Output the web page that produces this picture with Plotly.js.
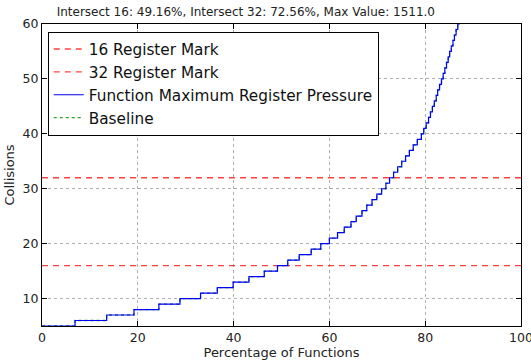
<!DOCTYPE html>
<html>
<head>
<meta charset="utf-8">
<script src="https://cdn.plot.ly/plotly-3.0.1.min.js"></script>
<style>html,body{margin:0;padding:0;background:#fff;}#chart{width:531px;height:363px;}</style>
</head>
<body>
<div id="chart"></div>
<script>
// Collision level (y) and the percentage of functions (x) where that level begins
const collisionLevels = [5,6,7,8,9,10,11,12,13,14,15,16,17,18,19,20,21,22,23,24,25,26,27,28,29,30,31,32,33,34,35,36,37,38,39,40,41,42,43,44,45,46,47,48,49,50,51,52,53,54,55,56,57,58,59,60,61,1511];
const levelStartPct = [0,6.9,13.5,19.2,24.4,28.8,33.1,36.6,39.9,43.2,46.4,49.16,51.3,53.7,56.2,58.2,60.0,61.7,63.1,64.5,65.6,66.8,67.8,68.9,69.9,70.9,71.8,72.56,73.4,74.25,75.1,75.9,76.7,77.5,78.35,79.2,79.7,80.2,80.7,81.1,81.5,81.9,82.3,82.6,83.0,83.4,83.75,84.1,84.45,84.8,85.1,85.45,85.8,86.1,86.45,86.8,87.1,100];
const markRange = [0, 100];
const mark16 = [16, 16];
const mark32 = [32, 32];
const xTicks = [0,20,40,60,80,100];
const yTicks = [10,20,30,40,50,60];
const titleText = "Intersect 16: 49.16%, Intersect 32: 72.56%, Max Value: 1511.0";

const F = "DejaVu Sans, sans-serif";
const traces = [
  {x: levelStartPct, y: collisionLevels, mode: "lines", name: "Baseline", line: {shape: "hv", color: "#2ca02c", width: 1.3, dash: "dot"}, legendrank: 4},
  {x: markRange, y: mark16, mode: "lines", name: "16 Register Mark", line: {color: "rgba(255,0,0,0.75)", width: 1.3, dash: "6px,5px"}, legendrank: 1},
  {x: markRange, y: mark32, mode: "lines", name: "32 Register Mark", line: {color: "rgba(255,0,0,0.75)", width: 1.3, dash: "6px,5px"}, legendrank: 2},
  {x: levelStartPct, y: collisionLevels, mode: "lines", name: "Function Maximum Register Pressure", line: {shape: "hv", color: "#0000ff", width: 1.2}, legendrank: 3}
];
const axisCommon = {
  showline: true, linecolor: "#000", linewidth: 1, mirror: "allticks",
  ticks: "inside", ticklen: 5, tickcolor: "#000",
  showgrid: true, gridcolor: "#b0b0b0", griddash: "dot", gridwidth: 1,
  zeroline: false, ticklabeloverflow: "allow",
  tickfont: {family: F, size: 12.5, color: "#222"}
};
const layout = {
  width: 531, height: 363,
  margin: {l: 42, r: 10, t: 24, b: 37},
  paper_bgcolor: "#fff", plot_bgcolor: "#fff",
  title: {text: titleText, font: {family: F, size: 12, color: "#222"}, x: 0.463, xanchor: "center", y: 0.967, yanchor: "middle"},
  xaxis: Object.assign({}, axisCommon, {range: [0, 100], tickvals: xTicks, ticktext: xTicks.map(String),
    title: {text: "Percentage of Functions", font: {family: F, size: 13, color: "#222"}, standoff: 3}}),
  yaxis: Object.assign({}, axisCommon, {range: [5, 60], tickvals: yTicks, ticktext: yTicks.map(String),
    title: {text: "Collisions", font: {family: F, size: 13, color: "#222"}, standoff: 5}}),
  showlegend: true,
  legend: {x: 0.012, y: 0.975, xanchor: "left", yanchor: "top", bgcolor: "#fff", bordercolor: "#000", borderwidth: 1,
    font: {family: F, size: 15.3, color: "#111"}, tracegroupgap: 0},
};
Plotly.newPlot("chart", traces, layout, {staticPlot: true, displayModeBar: false});
</script>
</body>
</html>
